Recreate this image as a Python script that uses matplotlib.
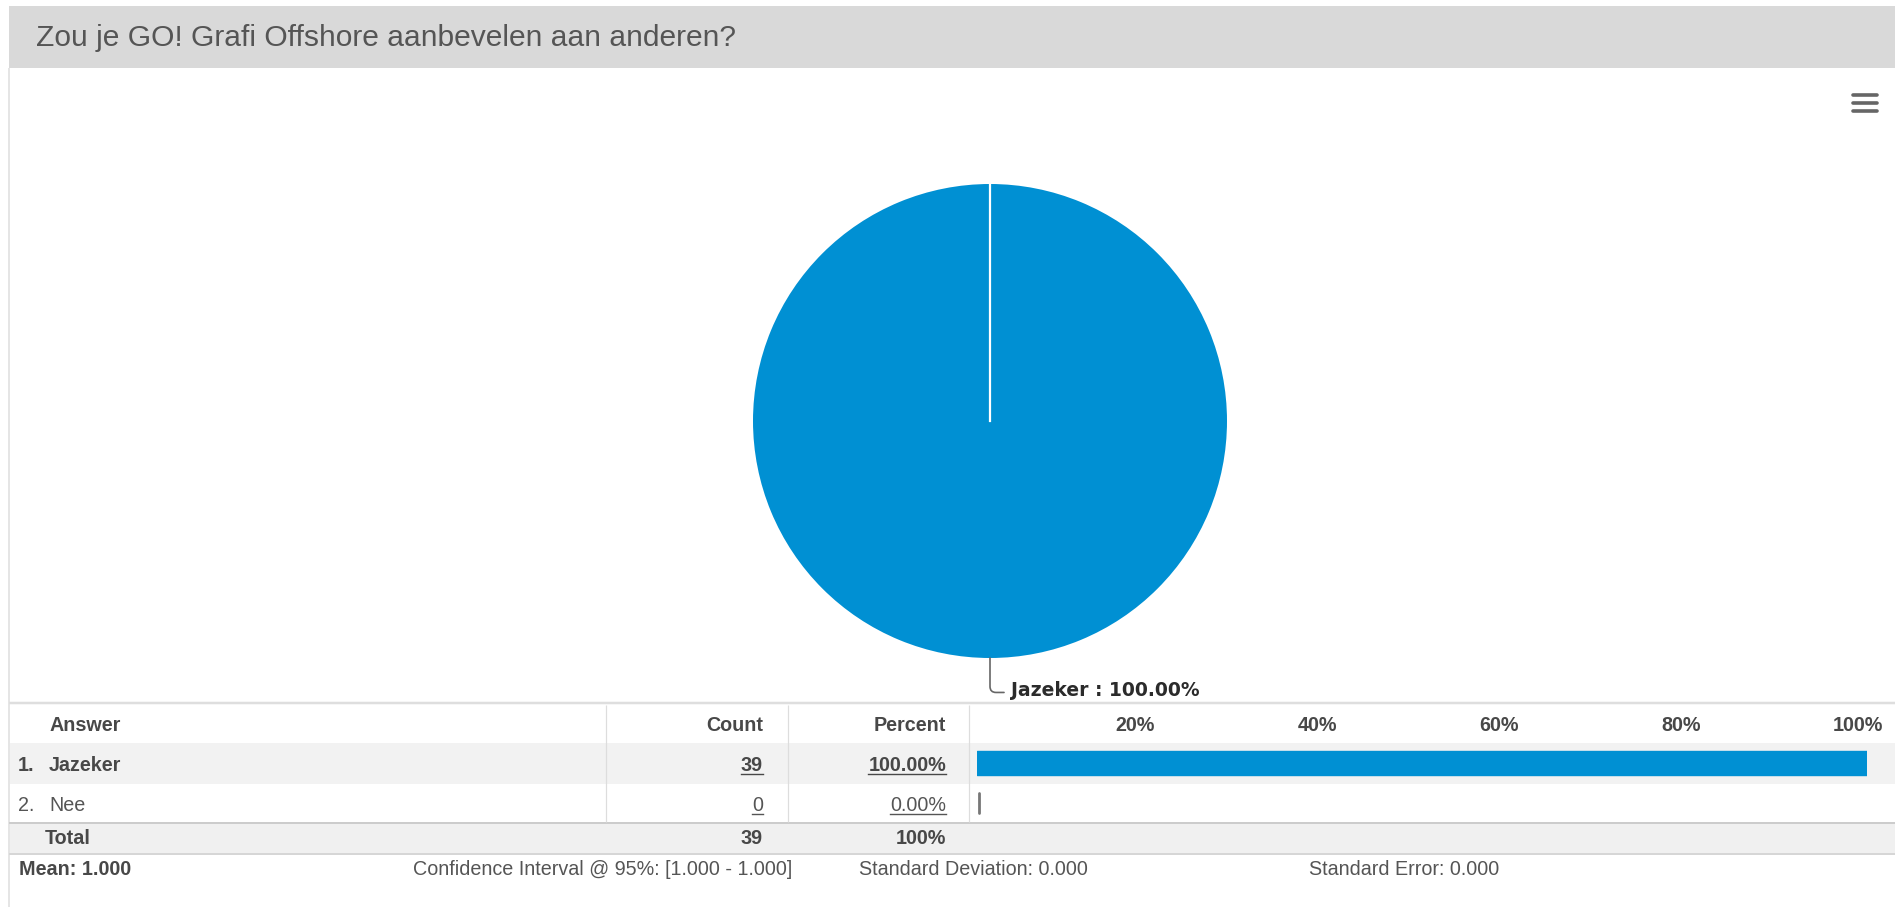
import math
import matplotlib
matplotlib.use('Agg')
import matplotlib.pyplot as plt
import matplotlib.transforms as mtransforms
from matplotlib.patches import Rectangle

plt.rcParams['font.family'] = ['Liberation Sans', 'DejaVu Sans']

# data
title = 'Zou je GO! Grafi Offshore aanbevelen aan anderen?'
answers = ['Jazeker', 'Nee']
counts = [39, 0]
percents = [100.0, 0.0]
total_count = 39
total_pct = '100%'
axis_ticks = [20, 40, 60, 80, 100]
headers = ['Answer', 'Count', 'Percent']
stats = ['Mean: 1.000', 'Confidence Interval @ 95%: [1.000 - 1.000]',
         'Standard Deviation: 0.000', 'Standard Error: 0.000']

W, H = 1895, 907
BLUE = '#0090d3'
TXT = '#484848'

fig = plt.figure(figsize=(W / 100, H / 100), dpi=100)
bg = fig.add_axes([0, 0, 1, 1])
bg.set_xlim(0, W)
bg.set_ylim(H, 0)
bg.axis('off')


def box(x0, y0, x1, y1, color):
    bg.add_patch(Rectangle((x0, y0), x1 - x0, y1 - y0, facecolor=color, edgecolor='none', zorder=0))


def hline(y, x0, x1, color, px=2):
    bg.plot([x0, x1], [y, y], color=color, lw=px * 0.72, solid_capstyle='butt', zorder=1)


def vline(x, y0, y1, color, px=1):
    bg.plot([x, x], [y0, y1], color=color, lw=px * 0.72, solid_capstyle='butt', zorder=1)


# title bar
box(9, 6, W, 68, '#d9d9d9')
bg.text(36, 46, title, fontsize=21.6, color='#555555', va='baseline', ha='left')
vline(9, 68, H, '#dddddd', 1.5)

# menu icon
for y in [94.5, 102.5, 110.5]:
    bg.plot([1853, 1877], [y, y], color='#666666', lw=2.6, solid_capstyle='round')

# pie
cx, cy, r = 990, 421, 237
ax_pie = fig.add_axes([(cx - r) / W, (H - cy - r) / H, 2 * r / W, 2 * r / H])
wedges, _ = ax_pie.pie(percents[:1], colors=[BLUE], startangle=90, counterclock=False,
                       radius=1, wedgeprops=dict(linewidth=0))
ax_pie.plot([0, 0], [0, 1], color='white', lw=1.6)
ax_pie.set_xlim(-1, 1)
ax_pie.set_ylim(-1, 1)
ax_pie.axis('off')
w = wedges[0]
mid = (w.theta1 + w.theta2) / 2.0
ax_pie.annotate(f'{answers[0]} : {percents[0]:.2f}%',
                xy=(math.cos(math.radians(mid)), math.sin(math.radians(mid))),
                xytext=(15.1, -27.4), textcoords='offset points',
                ha='left', va='baseline', fontsize=13.5, fontweight='bold',
                family='DejaVu Sans', color='#2b2b2b', annotation_clip=False,
                arrowprops=dict(arrowstyle='-', color='#666666', lw=1.2, relpos=(0, 0.4),
                                shrinkA=3, shrinkB=0,
                                connectionstyle='angle,angleA=0,angleB=90,rad=6'))

# table backgrounds and lines
hline(703, 9, W, '#dedede', 2.5)
box(10, 743, W, 784, '#f2f2f2')
box(10, 824, W, 853, '#f0f0f0')
hline(823, 9, W, '#cccccc', 2)
hline(854, 9, W, '#d6d6d6', 2)
for x in [606, 788, 969]:
    vline(x, 705, 822, '#dddddd', 1.2)

fs = 14.2
bg.text(49, 731, headers[0], fontsize=fs, fontweight='bold', color=TXT, va='baseline')
bg.text(763, 731, headers[1], fontsize=fs, fontweight='bold', color=TXT, va='baseline', ha='right')
bg.text(946, 731, headers[2], fontsize=fs, fontweight='bold', color=TXT, va='baseline', ha='right')

renderer = fig.canvas.get_renderer()
baselines = [771, 811]
for i, name in enumerate(answers):
    wt = 'bold' if counts[i] == max(counts) else 'normal'
    col = TXT if wt == 'bold' else '#555555'
    yb = baselines[i]
    bg.text(18, yb, f'{i + 1}.', fontsize=fs, fontweight=wt, color=col, va='baseline')
    bg.text(49, yb, name, fontsize=fs, fontweight=wt, color=col, va='baseline')
    for txt, xr in [(str(counts[i]), 763), (f'{percents[i]:.2f}%', 946)]:
        t = bg.text(xr, yb, txt, fontsize=fs, fontweight=wt, color=col, va='baseline', ha='right')
        bb = t.get_window_extent(renderer)
        bg.plot([bb.x0, bb.x1], [yb + 2.5, yb + 2.5], color=col, lw=1.0)

bg.text(45, 844, 'Total', fontsize=fs, fontweight='bold', color=TXT, va='baseline')
bg.text(763, 844, str(total_count), fontsize=fs, fontweight='bold', color=TXT, va='baseline', ha='right')
bg.text(946, 844, total_pct, fontsize=fs, fontweight='bold', color=TXT, va='baseline', ha='right')

stat_x = [19, 413, 859, 1309]
for i, s in enumerate(stats):
    bg.text(stat_x[i], 875, s, fontsize=fs, fontweight='bold' if i == 0 else 'normal',
            color=TXT if i == 0 else '#555555', va='baseline')

# bar column
ax_bar = fig.add_axes([977 / W, (H - 823) / H, 890 / W, 80 / H])
ax_bar.set_xlim(0, 100)
ax_bar.set_ylim(1.5, -0.5)
ax_bar.axis('off')
ax_bar.barh(range(len(percents)), percents, height=0.6, color=BLUE,
            edgecolor=[BLUE if v > 0 else 'none' for v in percents],
            linewidth=1.0, joinstyle='round')
zero_tr = mtransforms.offset_copy(ax_bar.transData, fig=fig, x=2, y=0, units='dots')
for i, v in enumerate(percents):
    if v == 0:
        ax_bar.plot([v, v], [i - 0.25, i + 0.25], color='#777777', lw=2.0,
                    solid_capstyle='round', transform=zero_tr, clip_on=False)

# header scale
ax_scale = fig.add_axes([973 / W, (H - 742) / H, 910 / W, 38 / H])
ax_scale.set_xlim(0, 100)
ax_scale.set_ylim(0, 1)
ax_scale.axis('off')
for t in axis_ticks:
    ax_scale.text(t, (742 - 731) / 38, f'{t}%', ha='right', va='baseline',
                  fontsize=fs, fontweight='bold', color=TXT)

fig.savefig('out.png', dpi=100)
